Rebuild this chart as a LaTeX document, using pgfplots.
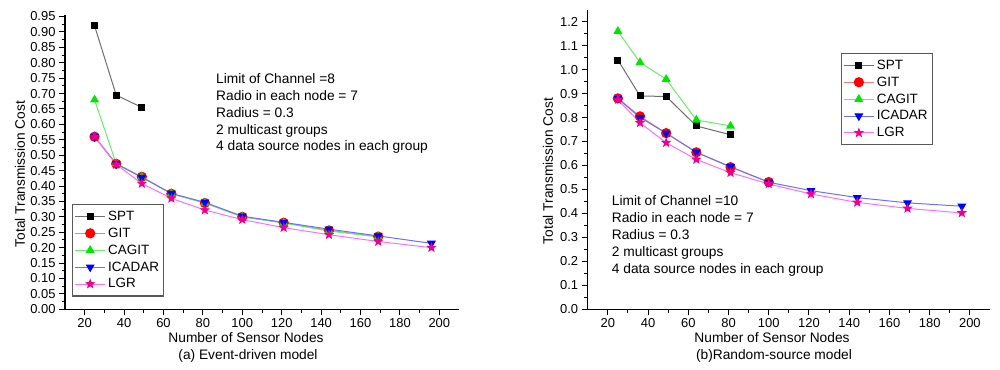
\documentclass[border=0pt]{standalone}
\usepackage{pgfplots}
\pgfplotsset{compat=1.18}
\usepackage{fontspec}
\setmainfont{Liberation Sans}
\definecolor{sptline}{RGB}{110,110,110}
\definecolor{gitline}{RGB}{255,120,120}
\definecolor{cagline}{RGB}{100,240,100}
\definecolor{icaline}{RGB}{110,110,255}
\definecolor{lgrline}{RGB}{255,110,255}
\definecolor{cagmark}{RGB}{0,230,0}
\pgfdeclareplotmark{fstar}{%
 \pgfpathmoveto{\pgfqpointpolar{90}{\pgfplotmarksize}}%
 \pgfpathlineto{\pgfqpointpolar{126}{0.42\pgfplotmarksize}}%
 \pgfpathlineto{\pgfqpointpolar{162}{\pgfplotmarksize}}%
 \pgfpathlineto{\pgfqpointpolar{198}{0.42\pgfplotmarksize}}%
 \pgfpathlineto{\pgfqpointpolar{234}{\pgfplotmarksize}}%
 \pgfpathlineto{\pgfqpointpolar{270}{0.42\pgfplotmarksize}}%
 \pgfpathlineto{\pgfqpointpolar{306}{\pgfplotmarksize}}%
 \pgfpathlineto{\pgfqpointpolar{342}{0.42\pgfplotmarksize}}%
 \pgfpathlineto{\pgfqpointpolar{18}{\pgfplotmarksize}}%
 \pgfpathlineto{\pgfqpointpolar{54}{0.42\pgfplotmarksize}}%
 \pgfpathclose\pgfusepathqfillstroke}
\pgfplotsset{
  common/.style={
    scale only axis,
    xmin=10, xmax=210,
    axis x line*=bottom, axis y line*=left,
    axis line style={line width=1.2bp},
    tick align=outside,
    major tick length=6bp, minor tick length=3.5bp,
    every tick/.style={black, line width=1bp},
    xtick={20,40,...,200}, minor x tick num=1,
    minor y tick num=1,
    tick label style={font=\fontsize{13}{15}\selectfont},
    /pgf/number format/assume math mode=true,
    legend cell align=left,
    legend style={font=\fontsize{13.5}{15}\selectfont, draw=black!65, line width=1.2bp,
      inner xsep=2bp, inner ysep=5bp, row sep=3bp, nodes={inner xsep=2.5bp, inner ysep=1.5bp}},
    legend image code/.code={\draw[mark repeat=2,mark phase=2,line width=1bp,#1] plot coordinates {(0bp,0bp) (15bp,0bp) (30bp,0bp)};},
  },
  spt/.style={sptline, line width=1bp, mark=square*, mark size=3bp, mark options={solid, draw=black, fill=black}},
  git/.style={gitline, line width=1bp, mark=*, mark size=4.6bp, mark options={solid, draw=red, fill=red}},
  cag/.style={cagline, line width=1bp, mark=triangle*, mark size=4.2bp, mark options={solid, draw=cagmark, fill=cagmark}},
  ica/.style={icaline, line width=1bp, mark=triangle*, mark size=4.2bp, mark options={solid, rotate=180, draw=blue, fill=blue}},
  lgr/.style={lgrline, line width=1bp, mark=fstar, mark size=4bp, mark options={solid, draw=magenta, fill=magenta}},
}
\begin{document}
\begin{tikzpicture}
\useasboundingbox (0,0) rectangle (1000bp,370bp);
% ---------------- left panel ----------------
\begin{axis}[common,
  at={(65bp,60.7bp)}, anchor=south west,
  width=394bp, height=294.3bp,
  ymin=0, ymax=0.955,
  ytick={0,0.05,...,0.951},
  yticklabel style={/pgf/number format/.cd, fixed, fixed zerofill, precision=2},
  legend style={at={(0.018,0.358)}, anchor=north west},
]
\addplot[spt] coordinates {(25,0.92) (36,0.695) (49,0.655)};
\addlegendentry{SPT}
\addplot[git] coordinates {(25,0.56) (36,0.472) (49,0.43) (64,0.375) (81,0.345) (100,0.300) (121,0.281) (144,0.256) (169,0.236)};
\addlegendentry{GIT}
\addplot[cag] coordinates {(25,0.68) (36,0.472) (49,0.43) (64,0.375) (81,0.345) (100,0.300) (121,0.280) (144,0.254) (169,0.235)};
\addlegendentry{CAGIT}
\addplot[ica] coordinates {(25,0.56) (36,0.472) (49,0.428) (64,0.376) (81,0.347) (100,0.302) (121,0.282) (144,0.260) (169,0.238) (196,0.214)};
\addlegendentry{ICADAR}
\addplot[lgr] coordinates {(25,0.56) (36,0.470) (49,0.408) (64,0.360) (81,0.322) (100,0.291) (121,0.265) (144,0.242) (169,0.220) (196,0.200)};
\addlegendentry{LGR}
\end{axis}
% ---------------- right panel ----------------
\begin{axis}[common,
  at={(587.7bp,60.7bp)}, anchor=south west,
  width=402.3bp, height=299.6bp,
  ymin=0, ymax=1.25,
  ytick={0,0.1,...,1.21},
  yticklabel style={/pgf/number format/.cd, fixed, fixed zerofill, precision=1},
  legend style={at={(0.629,0.856)}, anchor=north west},
]
\addplot[spt] coordinates {(25,1.04) (36,0.89) (49,0.888) (64,0.765) (81,0.728)};
\addlegendentry{SPT}
\addplot[git] coordinates {(25,0.88) (36,0.805) (49,0.735) (64,0.655) (81,0.593) (100,0.531)};
\addlegendentry{GIT}
\addplot[cag] coordinates {(25,1.16) (36,1.03) (49,0.96) (64,0.79) (81,0.765)};
\addlegendentry{CAGIT}
\addplot[ica] coordinates {(25,0.88) (36,0.80) (49,0.735) (64,0.655) (81,0.595) (100,0.530) (121,0.495) (144,0.466) (169,0.444) (196,0.430)};
\addlegendentry{ICADAR}
\addplot[lgr] coordinates {(25,0.875) (36,0.778) (49,0.695) (64,0.625) (81,0.570) (100,0.523) (121,0.481) (144,0.446) (169,0.421) (196,0.402)};
\addlegendentry{LGR}
\end{axis}
% ---------------- texts ----------------
\begin{scope}[every node/.style={font=\fontsize{13.8}{16.9}\selectfont, inner sep=0pt}]
\node[rotate=90] at (20bp,196bp) {Total Transmission Cost};
\node[rotate=90] at (548bp,199bp) {Total Transmission Cost};
\node at (246bp,32bp) {Number of Sensor Nodes};
\node at (248bp,14bp) {(a) Event-driven model};
\node at (772bp,32bp) {Number of Sensor Nodes};
\node at (774bp,14bp) {(b)Random-source model};
\node[anchor=west, align=left] at (216bp,256.3bp) {Limit of Channel =8\\Radio in each node = 7\\Radius = 0.3\\2 multicast groups\\4 data source nodes in each group};
\node[anchor=west, align=left] at (611.7bp,134.2bp) {Limit of Channel =10\\Radio in each node = 7\\Radius = 0.3\\2 multicast groups\\4 data source nodes in each group};
\end{scope}
\end{tikzpicture}
\end{document}
